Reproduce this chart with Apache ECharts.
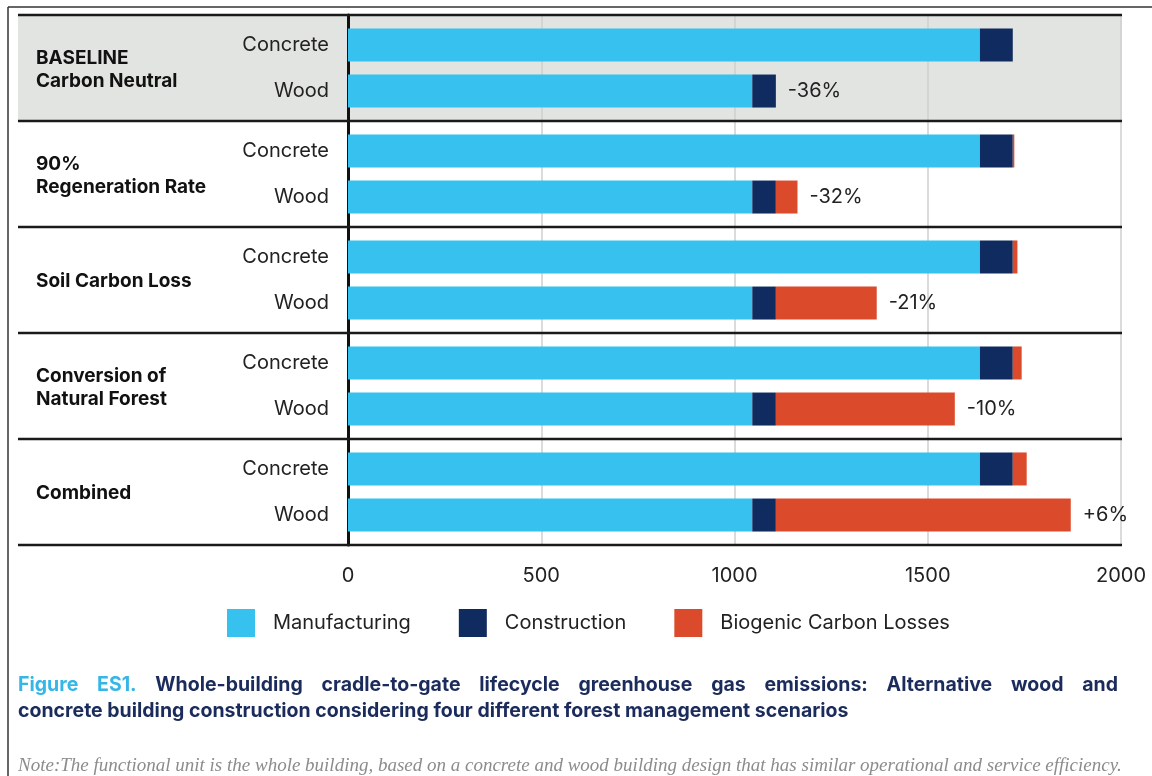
<!DOCTYPE html>
<html>
<head>
<meta charset="utf-8">
<script src="https://cdn.jsdelivr.net/npm/echarts@6/dist/echarts.min.js"></script>
<style>
  html, body { margin: 0; padding: 0; background: #ffffff; }
  #chart { width: 1152px; height: 776px; }
</style>
</head>
<body>
<div id="chart"></div>
<script>
// Scenario groups (two rows each: concrete building, wood building)
const scenarios = ['BASELINE\nCarbon Neutral', '90%\nRegeneration Rate', 'Soil Carbon Loss', 'Conversion of\nNatural Forest', 'Combined'];
const rowLabels = ['Concrete', 'Wood'];

// Emissions by life-cycle stage for each scenario
const concreteManufacturing = [1635, 1635, 1635, 1635, 1635];
const concreteConstruction  = [85, 85, 85, 85, 85];
const concreteBiogenic      = [0, 4, 12, 23, 36];
const woodManufacturing     = [1046, 1046, 1046, 1046, 1046];
const woodConstruction      = [61, 61, 61, 61, 61];
const woodBiogenic          = [0, 56, 261, 463, 763];

// Change of wood total relative to concrete total
const woodChangeLabels = ['-36%', '-32%', '-21%', '-10%', '+6%'];

const xTicks = { min: 0, max: 2000, interval: 500 };
const legendNames = ['Manufacturing', 'Construction', 'Biogenic Carbon Losses'];

const captionLead = 'Figure ES1.';
const captionLine1 = 'Whole-building cradle-to-gate lifecycle greenhouse gas emissions: Alternative wood and';
const captionLine2 = 'concrete building construction considering four different forest management scenarios';
const noteText = 'Note:The functional unit is the whole building, based on a concrete and wood building design that has similar operational and service efficiency.';

const COLORS = { manufacturing: '#37c1ee', construction: '#0f2b5f', biogenic: '#dc4a2c' };
const FONT = 'Inter, "Noto Sans", sans-serif';

// Ten rows: concrete / wood alternating per scenario
const categories = [];
scenarios.forEach(() => rowLabels.forEach(r => categories.push(r)));

// Spread scenario values onto concrete rows (even) or wood rows (odd)
function onRows(values, parity) {
  const out = [];
  values.forEach(v => {
    if (parity === 0) { out.push(v, '-'); } else { out.push('-', v); }
  });
  return out;
}

const BAR_W = 33;
const barBase = { type: 'bar', barWidth: BAR_W, barGap: '-79%', emphasis: { disabled: true } };

const series = [
  // wood rows first: they take the upper slot of each band
  Object.assign({}, barBase, { name: legendNames[0], stack: 'wood', data: onRows(woodManufacturing, 1), itemStyle: { color: COLORS.manufacturing } }),
  Object.assign({}, barBase, { name: legendNames[1], stack: 'wood', data: onRows(woodConstruction, 1), itemStyle: { color: COLORS.construction } }),
  Object.assign({}, barBase, {
    name: legendNames[2], stack: 'wood', data: onRows(woodBiogenic, 1), itemStyle: { color: COLORS.biogenic },
    label: {
      show: true, position: 'right', distance: 12,
      fontFamily: FONT, fontSize: 20, color: '#222',
      formatter: p => woodChangeLabels[(p.dataIndex - 1) / 2]
    }
  }),
  Object.assign({}, barBase, { name: legendNames[0], stack: 'concrete', data: onRows(concreteManufacturing, 0), itemStyle: { color: COLORS.manufacturing } }),
  Object.assign({}, barBase, { name: legendNames[1], stack: 'concrete', data: onRows(concreteConstruction, 0), itemStyle: { color: COLORS.construction } }),
  Object.assign({}, barBase, { name: legendNames[2], stack: 'concrete', data: onRows(concreteBiogenic, 0), itemStyle: { color: COLORS.biogenic } })
];

const chart = echarts.init(document.getElementById('chart'), null, { renderer: 'canvas' });

chart.setOption({
  backgroundColor: '#ffffff',
  animation: false,
  grid: { left: 348, right: 31, top: 15, bottom: 231, containLabel: false },
  xAxis: {
    type: 'value', min: xTicks.min, max: xTicks.max, interval: xTicks.interval,
    axisLine: { show: false }, axisTick: { show: false },
    splitLine: { show: true, lineStyle: { color: '#cfcfcf', width: 1.5 } },
    axisLabel: { margin: 21, fontFamily: FONT, fontSize: 20, color: '#222', formatter: v => String(v) }
  },
  yAxis: {
    type: 'category', inverse: true, data: categories,
    axisLine: { show: true, lineStyle: { color: '#111', width: 3 } },
    axisTick: { show: false },
    splitLine: { show: false },
    axisLabel: {
      margin: 19, fontFamily: FONT, fontSize: 20, color: '#222',
      formatter: (v, i) => (i % 2 === 0 ? '{c|' + v + '}' : '{w|' + v + '}'),
      rich: {
        c: { fontFamily: FONT, fontSize: 20, color: '#222', padding: [7, 0, 0, 0] },
        w: { fontFamily: FONT, fontSize: 20, color: '#222', padding: [0, 0, 7, 0] }
      }
    }
  },
  legend: {
    data: legendNames, left: 227, top: 609, padding: 0,
    icon: 'rect', itemWidth: 28, itemHeight: 28, itemGap: 48,
    selectedMode: false,
    textStyle: { fontFamily: FONT, fontSize: 20, color: '#222', padding: [0, 0, 0, 13] }
  },
  series: series
});

// Scenario frames, shading and captions placed from the category scale
const yPos = i => chart.convertToPixel({ yAxisIndex: 0 }, i);
const band = yPos(1) - yPos(0);
const boundary = i => yPos(0) + (i - 0.5) * band; // top edge of row i
const LEFT = 18, RIGHT = 1122;

const graphics = [];
// page frame
graphics.push({ type: 'line', shape: { x1: 8, y1: 7, x2: 1152, y2: 7 }, style: { stroke: '#333', lineWidth: 1.5 }, z: 10 });
graphics.push({ type: 'line', shape: { x1: 8, y1: 7, x2: 8, y2: 776 }, style: { stroke: '#333', lineWidth: 1.5 }, z: 10 });
// shaded baseline group
graphics.push({ type: 'rect', shape: { x: LEFT, y: boundary(0), width: RIGHT - LEFT, height: 2 * band }, style: { fill: '#e2e4e1' }, z: -10 });
// group separators
for (let g = 0; g <= scenarios.length; g++) {
  const y = boundary(2 * g);
  graphics.push({ type: 'line', shape: { x1: LEFT, y1: y, x2: RIGHT, y2: y }, style: { stroke: '#1a1a1a', lineWidth: 2.5 }, z: 10 });
}
// scenario names
scenarios.forEach((name, g) => {
  graphics.push({
    type: 'text', x: 36, y: boundary(2 * g + 1) + 1.5, z: 10,
    style: {
      text: name, fontFamily: FONT, fontSize: 19, fontWeight: 'bold', fill: '#111',
      lineHeight: 23, verticalAlign: 'middle', align: 'left'
    }
  });
});

// figure caption: first line justified across the frame, second line left aligned
const CAP_SIZE = 19.5;
const capFont = 'bold ' + CAP_SIZE + 'px Inter, "Noto Sans", sans-serif';
const measureCtx = document.createElement('canvas').getContext('2d');
measureCtx.font = capFont;
const capWords = [];
captionLead.split(' ').forEach(w => capWords.push({ t: w, c: '#35b6e6' }));
captionLine1.split(' ').forEach(w => capWords.push({ t: w, c: '#1b2b5b' }));
const wordWidths = capWords.map(w => measureCtx.measureText(w.t).width);
const used = wordWidths.reduce((a, b) => a + b, 0);
const gap = (1118 - 18 - used) / (capWords.length - 1);
let cx = 18;
capWords.forEach((w, i) => {
  graphics.push({
    type: 'text', x: cx, y: 685, z: 10,
    style: { text: w.t, fontFamily: FONT, fontSize: CAP_SIZE, fontWeight: 'bold', fill: w.c, verticalAlign: 'middle' }
  });
  cx += wordWidths[i] + gap;
});
graphics.push({
  type: 'text', x: 18, y: 711, z: 10,
  style: { text: captionLine2, fontFamily: FONT, fontSize: CAP_SIZE, fontWeight: 'bold', fill: '#1b2b5b', verticalAlign: 'middle' }
});
graphics.push({
  type: 'text', x: 18, y: 766, z: 10,
  style: {
    text: noteText,
    fontFamily: '"Liberation Serif", serif', fontStyle: 'italic', fontSize: 19, fill: '#8c8c8c', verticalAlign: 'middle'
  }
});

chart.setOption({ graphic: graphics });
</script>
</body>
</html>
